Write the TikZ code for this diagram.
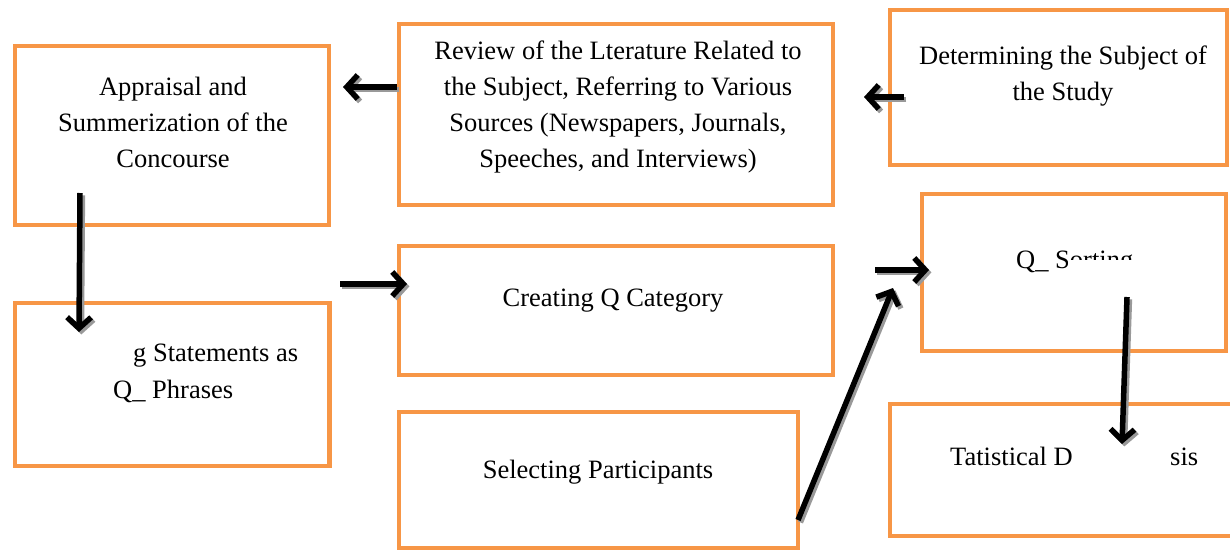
\documentclass[tikz,border=0pt]{standalone}
\usepackage{fontspec}
\setmainfont{Liberation Serif}
\usetikzlibrary{arrows.meta}
\definecolor{boxorange}{HTML}{F79646}
\begin{document}
\begin{tikzpicture}[x=1pt,y=-1pt,
  stepbox/.style={draw=boxorange, line width=4.5pt, rectangle, inner sep=0pt},
  txt/.style={font=\fontsize{26.5}{36}\selectfont, align=center, inner sep=0pt, text=black},
  arr/.style={line width=5.5pt, -{Straight Barb[length=11pt,width=24pt]}},
  arrshadow/.style={arr, draw=black!40}
]
\useasboundingbox (0,0) rectangle (1230,552);
\fill[white] (0,0) rectangle (1230,552);

% boxes
\node[stepbox, minimum width=314pt, minimum height=179pt] (A) at (172,135.5) {};
\node[stepbox, minimum width=434pt, minimum height=181pt] (B) at (616,114.5) {};
\node[stepbox, minimum width=337pt, minimum height=155pt] (C) at (1058.5,87.5) {};
\node[stepbox, minimum width=314.5pt, minimum height=163pt] (D) at (172,384.5) {};
\node[stepbox, minimum width=434pt, minimum height=129pt] (E) at (616,310.5) {};
\node[stepbox, minimum width=399pt, minimum height=136pt] (F) at (598.5,480) {};
\node[stepbox, minimum width=304pt, minimum height=157pt] (G) at (1074,272.5) {};
\node[stepbox, minimum width=345pt, minimum height=132pt] (H) at (1062.5,470) {};

% texts
\node[txt] (At) at (173,122) {Appraisal and\\Summerization of the\\Concourse};
\node[txt] (Bt) at (618,107) {Review of the Lterature Related to\\the Subject, Referring to Various\\Sources (Newspapers, Journals,\\Speeches, and Interviews)};
\node[txt] (Ct) at (1063,76) {Determining the Subject of\\the Study};
\node[txt, anchor=base west] (Dt1) at (133,361) {g Statements as};
\node[txt, anchor=base west] (Dt2) at (113,398) {Q\_ Phrases};
\node[txt, anchor=base] (Et) at (613,306) {Creating Q Category};
\node[txt, anchor=base] (Ft) at (598,478) {Selecting Participants};
\begin{scope}
\clip (1000,230) -- (1150,230) -- (1150,259) -- (1067,259) -- (1067,285) -- (1000,285) -- cycle;
\node[txt, anchor=base west] (Gt) at (1016,268) {Q\_ Sorting};
\end{scope}
\node[txt, anchor=base west] (Ht1) at (950,465) {Tatistical D};
\node[txt, anchor=base west] (Ht2) at (1170,465) {sis};

% arrow end points
\coordinate (ba1) at (397,87);   \coordinate (ba2) at (343,87);
\coordinate (cb1) at (904,97);   \coordinate (cb2) at (864,97);
\coordinate (ad1) at (80,193);   \coordinate (ad2) at (79,332);
\coordinate (de1) at (340,284);  \coordinate (de2) at (407,284);
\coordinate (eg1) at (875,270);  \coordinate (eg2) at (929,270);
\coordinate (fg1) at (798,520);  \coordinate (fg2) at (893,288);
\coordinate (gh1) at (1127,297); \coordinate (gh2) at (1122,444);

% connector shadows, then connectors
\foreach \s/\e in {ba1/ba2, cb1/cb2, ad1/ad2, de1/de2, eg1/eg2, fg1/fg2, gh1/gh2}{
  \draw[arrshadow] ([shift={(2.4,2.4)}]\s) -- ([shift={(2.4,2.4)}]\e);
}
\foreach \s/\e in {ba1/ba2, cb1/cb2, ad1/ad2, de1/de2, eg1/eg2, fg1/fg2, gh1/gh2}{
  \draw[arr] (\s) -- (\e);
}
\end{tikzpicture}
\end{document}
